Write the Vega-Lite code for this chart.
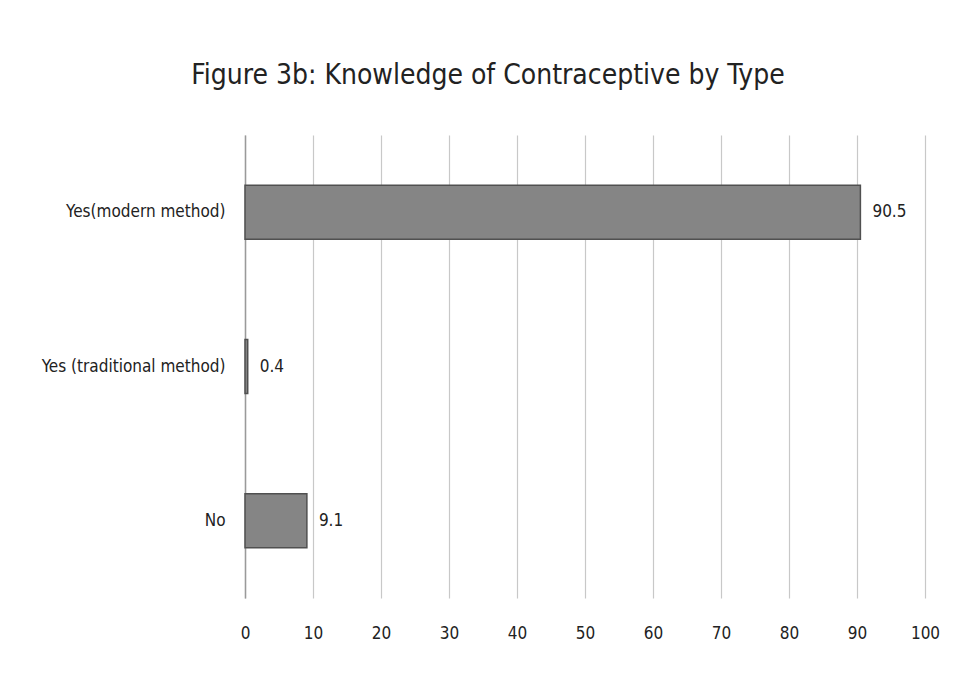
{
  "$schema": "https://vega.github.io/schema/vega-lite/v6.json",
  "autosize": "none",
  "width": 680,
  "height": 463,
  "padding": {"left": 245, "top": 135, "right": 35, "bottom": 75},
  "background": "white",
  "data": {"values": [
    {"category": "Yes(modern method)", "value": 90.5},
    {"category": "Yes (traditional method)", "value": 0.4},
    {"category": "No", "value": 9.1}
  ]},
  "title": {
    "text": "Figure 3b: Knowledge of Contraceptive by Type",
    "fontSize": 28,
    "font": "Liberation Sans Narrow, DejaVu Sans Condensed, sans-serif",
    "fontWeight": "normal",
    "color": "#222222",
    "anchor": "middle",
    "dx": -97,
    "offset": 45
  },
  "config": {
    "view": {"stroke": null},
    "axis": {"labelFont": "Liberation Sans Narrow, DejaVu Sans Condensed, sans-serif", "labelFontSize": 17, "labelColor": "#222222", "labelLimit": 0}
  },
  "layer": [
    {
      "mark": {"type": "bar", "color": "#858585", "stroke": "#505050", "strokeWidth": 1.5},
      "encoding": {
        "y": {"field": "category", "type": "nominal", "sort": null,
              "scale": {"paddingInner": 0.65, "paddingOuter": 0.325},
              "axis": {"title": null, "ticks": false, "domainColor": "#9a9a9a", "domainWidth": 1.5, "labelPadding": 20}},
        "x": {"field": "value", "type": "quantitative",
              "scale": {"domain": [0, 100], "nice": false},
              "axis": {"title": null, "values": [0,10,20,30,40,50,60,70,80,90,100], "domain": false, "ticks": false, "labelFlush": false,
                       "gridColor": "#c8c8c8", "gridWidth": 1.2, "labelPadding": 27}}
      }
    },
    {
      "mark": {"type": "text", "align": "left", "dx": 12, "fontSize": 17, "font": "Liberation Sans Narrow, DejaVu Sans Condensed, sans-serif", "color": "#222222"},
      "encoding": {
        "y": {"field": "category", "type": "nominal", "sort": null},
        "x": {"field": "value", "type": "quantitative"},
        "text": {"field": "value", "type": "quantitative", "format": ".1f"}
      }
    }
  ]
}
